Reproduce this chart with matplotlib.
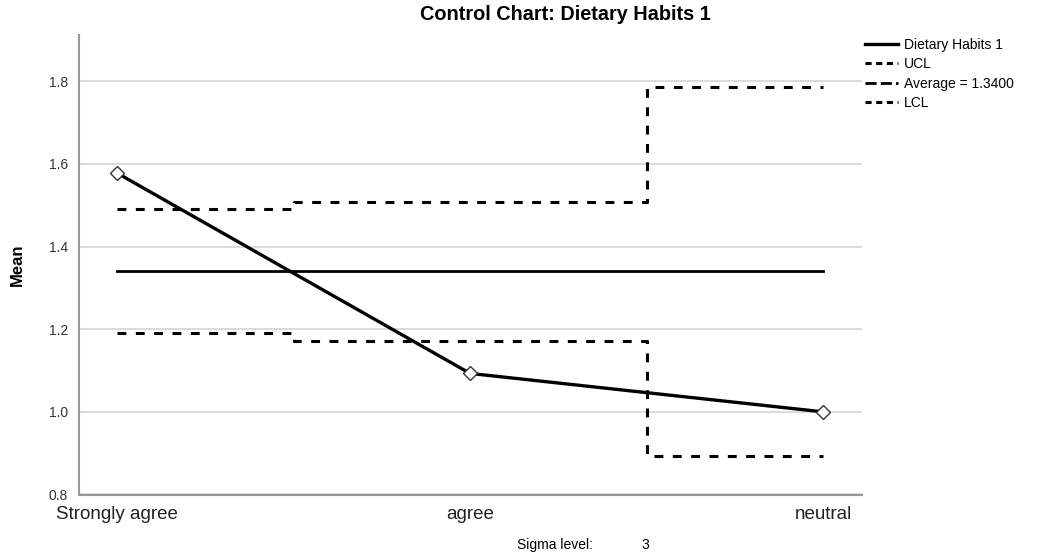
import matplotlib
matplotlib.use("Agg")
import matplotlib.pyplot as plt
from matplotlib.lines import Line2D

plt.rcParams['font.family'] = ['Liberation Sans', 'DejaVu Sans']

categories = ["Strongly agree", "agree", "neutral"]
means = [1.578, 1.093, 1.000]
ucl = [1.490, 1.508, 1.787]
lcl = [1.190, 1.172, 0.893]
average = 1.3400
sigma_level = 3
yticks = [0.8, 1.0, 1.2, 1.4, 1.6, 1.8]

fig = plt.figure(figsize=(10.45, 5.55), dpi=100)
ax = fig.add_axes([79/1045, 1-494.5/555, (862-79)/1045, (494.5-35)/555])

x = list(range(len(categories)))
dash = (2.9, 3.1)

ax.step(x, ucl, where='mid', color='black', lw=2.2, dashes=dash, zorder=3)
ax.step(x, lcl, where='mid', color='black', lw=2.2, dashes=dash, zorder=3)
ax.plot([x[0], x[-1]], [average, average], color='black', lw=2.0, zorder=3)
ax.plot(x, means, color='black', lw=2.4, zorder=4,
        marker='D', markersize=7, markerfacecolor='white',
        markeredgecolor='#333333', markeredgewidth=1.0)

ax.set_xlim(-0.1076, 2.110)
ax.set_ylim(0.8, 1.912)
ax.set_yticks(yticks)
ax.set_yticklabels([f"{v:.1f}" for v in yticks], fontsize=10, color='#333333')
ax.set_xticks(x)
ax.set_xticklabels(categories, fontsize=13.5, color='#222222')
ax.tick_params(axis='both', length=0)
ax.tick_params(axis='x', pad=8)
ax.tick_params(axis='y', pad=8)
ax.grid(axis='y', color='#d4d4d4', lw=1.2, zorder=0)
ax.set_axisbelow(True)
for s in ['top', 'right']:
    ax.spines[s].set_visible(False)
for s in ['left', 'bottom']:
    ax.spines[s].set_color('#999999')
    ax.spines[s].set_linewidth(1.5)

ax.set_ylabel("Mean", fontsize=12, fontweight='bold', labelpad=17)

fig.text(565/1045, 1-15/555, "Control Chart: Dietary Habits 1", ha='center', va='center',
         fontsize=14.3, fontweight='bold')

handles = [
    Line2D([], [], color='black', lw=2.4),
    Line2D([], [], color='black', lw=2.2, dashes=(2.0, 1.5)),
    Line2D([], [], color='black', lw=2.0, dashes=(4.0, 1.5)),
    Line2D([], [], color='black', lw=2.2, dashes=(2.0, 1.5)),
]
labels = ["Dietary Habits 1", "UCL", f"Average = {average:.4f}", "LCL"]
ax.legend(handles, labels, loc='upper left', bbox_to_anchor=(865/1045, 1-38/555),
          bbox_transform=fig.transFigure, frameon=False, fontsize=10,
          handlelength=2.4, handletextpad=0.4, labelspacing=0.38, borderpad=0,
          borderaxespad=0)

fig.text(593/1045, 1-545/555, "Sigma level:", ha='right', va='center', fontsize=10)
fig.text(645/1045, 1-545/555, f"{sigma_level}", ha='center', va='center', fontsize=10)

fig.savefig("out.png", dpi=100)
